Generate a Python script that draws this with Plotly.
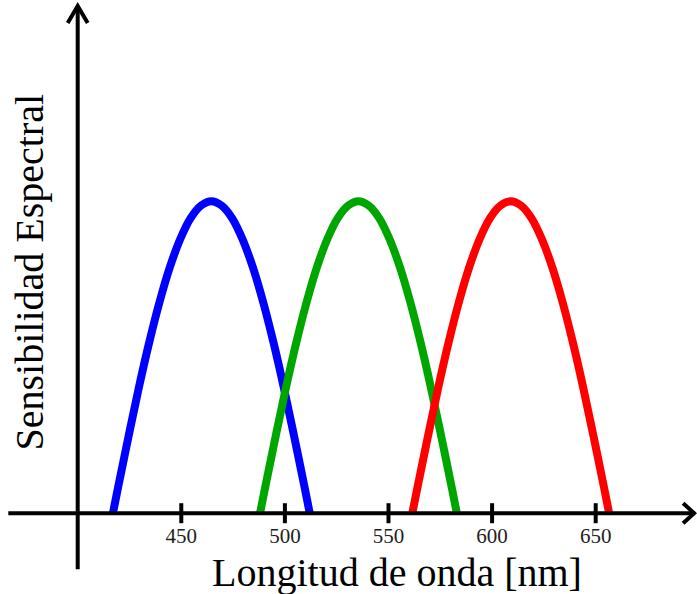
import plotly.graph_objects as go

# Data
blue_x = [417, 419.5, 424.5, 429.5, 434.5, 439.5, 444.5, 449.5, 454.5, 459.5, 464.5,
          469.5, 474.5, 479.5, 484.5, 489.5, 494.5, 499.5, 504.5, 509.5, 512]
blue_y = [0, 0.083, 0.245, 0.402, 0.547, 0.677, 0.789, 0.879, 0.946, 0.986, 1.0,
          0.986, 0.946, 0.879, 0.789, 0.677, 0.547, 0.402, 0.245, 0.083, 0]
green_x = [488, 490.5, 495.5, 500.5, 505.5, 510.5, 515.5, 520.5, 525.5, 530.5, 535.5,
           540.5, 545.5, 550.5, 555.5, 560.5, 565.5, 570.5, 575.5, 580.5, 583]
green_y = [0, 0.083, 0.245, 0.402, 0.547, 0.677, 0.789, 0.879, 0.946, 0.986, 1.0,
           0.986, 0.946, 0.879, 0.789, 0.677, 0.547, 0.402, 0.245, 0.083, 0]
red_x = [561.5, 564, 569, 574, 579, 584, 589, 594, 599, 604, 609,
         614, 619, 624, 629, 634, 639, 644, 649, 654, 656.5]
red_y = [0, 0.083, 0.245, 0.402, 0.547, 0.677, 0.789, 0.879, 0.946, 0.986, 1.0,
         0.986, 0.946, 0.879, 0.789, 0.677, 0.547, 0.402, 0.245, 0.083, 0]
tick_vals = [450, 500, 550, 600, 650]
tick_text = ["450", "500", "550", "600", "650"]

x_title = "Longitud de onda [nm]"
y_title = "Sensibilidad Espectral"

W, H = 697, 594
FONT = "Liberation Serif"

fig = go.Figure()
for xs, ys, col in [(blue_x, blue_y, "#0000FF"),
                    (green_x, green_y, "#00A600"),
                    (red_x, red_y, "#FF0000")]:
    fig.add_trace(go.Scatter(x=xs, y=ys, mode="lines",
                             line=dict(color=col, width=8, shape="spline", smoothing=1),
                             showlegend=False, hoverinfo="skip"))

x_range = [362.5, 698.9]
y_range = [-0.259, 1.645]
base_frac = (0 - y_range[0]) / (y_range[1] - y_range[0])

shapes = []
# x axis line and arrow
shapes.append(dict(type="line", x0=366.5, x1=698, y0=0, y1=0, xref="x", yref="y",
                   line=dict(color="black", width=4), layer="above"))
shapes.append(dict(type="path", xref="x", yref="y", xsizemode="pixel", ysizemode="pixel",
                   xanchor=697.5, yanchor=0, path="M -11,10 L 0,0 L -11,-10",
                   line=dict(color="black", width=4), layer="above"))
# y axis line and arrow
shapes.append(dict(type="line", x0=400, x1=400, y0=-0.18, y1=1.626, xref="x", yref="y",
                   line=dict(color="black", width=4), layer="above"))
shapes.append(dict(type="path", xref="x", yref="y", xsizemode="pixel", ysizemode="pixel",
                   xanchor=400, yanchor=1.626, path="M -10,-17 L 0,0 L 10,-17",
                   line=dict(color="black", width=4), layer="above"))
# tick marks
for tv in tick_vals:
    shapes.append(dict(type="line", xref="x", yref="y", ysizemode="pixel", yanchor=0,
                       x0=tv, x1=tv, y0=-10, y1=10,
                       line=dict(color="black", width=4), layer="above"))

fig.update_layout(
    width=W, height=H,
    margin=dict(l=0, r=0, t=0, b=0),
    paper_bgcolor="white", plot_bgcolor="white",
    shapes=shapes,
    xaxis=dict(range=x_range, showgrid=False, zeroline=False, showline=False,
               tickvals=tick_vals, ticktext=tick_text, ticks="outside", ticklen=4,
               tickcolor="rgba(0,0,0,0)", tickwidth=4,
               tickfont=dict(family=FONT, size=21, color="#222"),
               anchor="free", position=base_frac, fixedrange=True),
    yaxis=dict(range=y_range, showgrid=False, zeroline=False, showline=False,
               showticklabels=False, ticks="", fixedrange=True),
    annotations=[
        dict(text=x_title, xref="paper", yref="paper",
             x=396.5 / W, y=1 - 572 / H, xanchor="center", yanchor="middle",
             showarrow=False, font=dict(family=FONT, size=40, color="black")),
        dict(text=y_title, xref="paper", yref="paper", textangle=-90,
             x=29 / W, y=1 - 272.5 / H, xanchor="center", yanchor="middle",
             showarrow=False, font=dict(family=FONT, size=40, color="black")),
    ],
)

fig.write_html("out.html")
